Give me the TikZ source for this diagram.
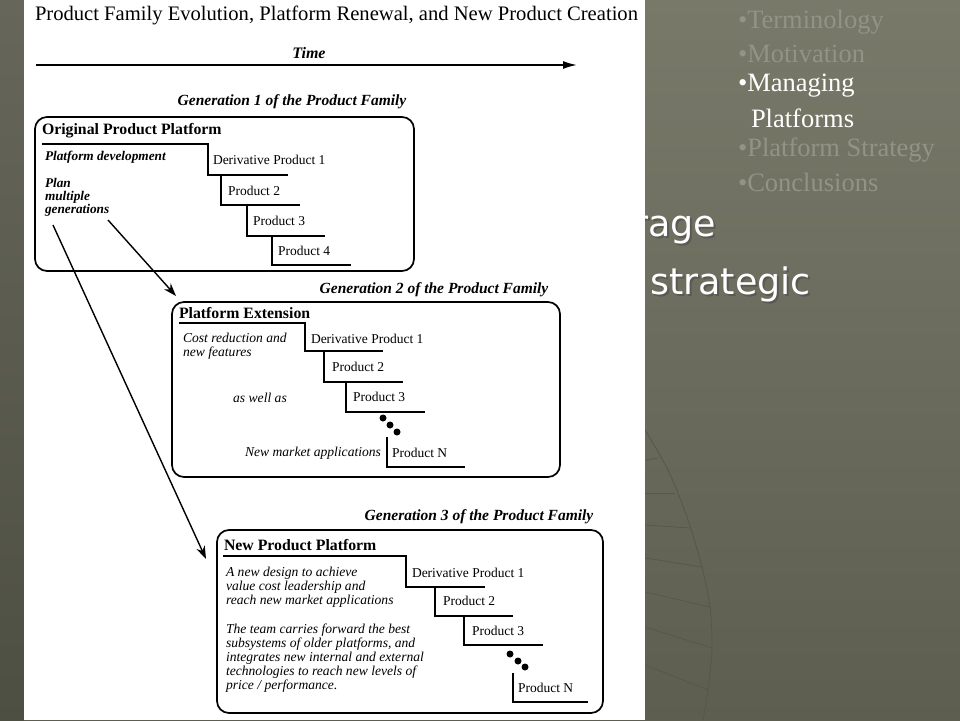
\documentclass[tikz,border=0pt]{standalone}
\usepackage{fontspec}
\setmainfont{Liberation Serif}
\newfontfamily\vfont{DejaVu Sans}
\usetikzlibrary{arrows.meta}
\definecolor{bgtop}{HTML}{787969}
\definecolor{bgbot}{HTML}{5D5E50}
\definecolor{striptop}{HTML}{66675A}
\definecolor{stripbot}{HTML}{4E4F43}
\definecolor{fade}{HTML}{929386}
\definecolor{globe}{HTML}{56574A}
\begin{document}
\begin{tikzpicture}[x=1pt,y=-1pt,
  txt/.style={inner sep=0pt,outer sep=0pt},
  menu/.style={txt,anchor=west,font=\fontsize{26.5}{30}\selectfont},
  big/.style={txt,font=\vfont\fontsize{36.5}{40}\selectfont},
  gen/.style={txt,font=\bfseries\itshape\fontsize{15.5}{17}\selectfont},
  hdr/.style={txt,anchor=west,font=\bfseries\fontsize{15.8}{17}\selectfont},
  prod/.style={txt,anchor=west,font=\fontsize{13.5}{15}\selectfont},
  bnote/.style={txt,anchor=west,align=left,font=\bfseries\itshape\fontsize{13.3}{13}\selectfont},
  inote/.style={txt,anchor=west,align=left,font=\itshape\fontsize{13.6}{14}\selectfont},
  famBox/.style={draw=black,line width=1.7pt,rounded corners=12pt},
  stair/.style={draw=black,line width=1.3pt},
  flowArrow/.style={draw=black,line width=1.4pt,-{Stealth[length=13pt,width=9pt]}},
  dotmark/.style={fill=black}
]
\useasboundingbox (0,0) rectangle (960,720);
% background
\shade[top color=bgtop,bottom color=bgbot] (0,0) rectangle (960,720);
\shade[top color=striptop,bottom color=stripbot] (0,0) rectangle (24,720);
% faint globe decoration
\draw[globe,line width=0.8pt] plot[smooth] coordinates {(645,430) (668,470) (687,517) (702,567) (710,607) (712,648) (708,690) (703,720)};
\foreach \ya/\yb/\xb in {460/458/658, 493/493/675, 525/528/690, 558/567/702, 592/607/710, 627/648/712, 665/690/708} {
  \draw[globe,line width=0.7pt] (645,\ya) -- (\xb,\yb);
}
% big partially hidden words
\node[big,anchor=east,text=black!70,opacity=0.6] (rageS) at (718,232) {rage};
\node[big,anchor=east,text=white] (rage) at (716,230) {rage};
\node[big,anchor=west,text=black!70,opacity=0.6] (stratS) at (652,286) {strategic};
\node[big,anchor=west,text=white] (strat) at (650,284) {strategic};
% menu
\node[menu,text=fade] (m1) at (738,22) {•Terminology};
\node[menu,text=fade] (m2) at (738,54) {•Motivation};
\node[menu,text=white] (m3) at (738,86) {•Managing};
\node[menu,text=white] (m3b) at (751,118) {Platforms};
\node[menu,text=fade] (m4) at (738,150) {•Platform Strategy};
\node[menu,text=fade] (m5) at (738,182) {•Conclusions};
% white panel
\fill[white] (24,0) rectangle (645,720);
% title and time
\node[txt,anchor=west,font=\fontsize{20.6}{23}\selectfont] (title) at (35,15) {Product Family Evolution, Platform Renewal, and New Product Creation};
\node[gen,font=\bfseries\itshape\fontsize{16}{18}\selectfont] (time) at (309,53) {Time};
\coordinate (tA) at (36,65);
\coordinate (tB) at (577,65);
\draw[line width=1.6pt,-{Latex[length=14pt,width=8pt]}] (tA) -- (tB);
% ---------- Generation 1
\node[gen] (g1) at (292,102) {Generation 1 of the Product Family};
\draw[famBox] (35,117) rectangle (414,271);
\node[hdr] (h1) at (42,131) {Original Product Platform};
\draw[stair] (42,144) -- (208,144) -- (208,175) -- (288,175);
\draw[stair] (221,175) -- (221,205) -- (300,205);
\draw[stair] (247,205) -- (247,236) -- (325,236);
\draw[stair] (272,236) -- (272,265) -- (351,265);
\node[prod] (g1p1) at (213,160) {Derivative Product 1};
\node[prod] (g1p2) at (228,191) {Product 2};
\node[prod] (g1p3) at (253,221) {Product 3};
\node[prod] (g1p4) at (278,251) {Product 4};
\node[bnote] (pd) at (45,157) {Platform development};
\node[bnote] (plan) at (45,197) {Plan\\multiple\\generations};
% ---------- Generation 2
\node[gen] (g2) at (434,290) {Generation 2 of the Product Family};
\draw[famBox] (172,302) rectangle (560,477);
\node[hdr] (h2) at (179,313) {Platform Extension};
\draw[stair] (179,323) -- (305,323) -- (305,351) -- (383,351);
\draw[stair] (324,351) -- (324,382) -- (403,382);
\draw[stair] (346,382) -- (346,412) -- (425,412);
\draw[stair] (387,437) -- (387,467) -- (465,467);
\node[prod] (g2p1) at (311,339) {Derivative Product 1};
\node[prod] (g2p2) at (332,367) {Product 2};
\node[prod] (g2p3) at (353,397) {Product 3};
\node[prod] (g2pn) at (392,453) {Product N};
\node[inote] (cost) at (183,346) {Cost reduction and\\new features};
\node[inote,anchor=center] (awa) at (260,398) {as well as};
\node[inote,anchor=east] (nma) at (381,453) {New market applications};
\fill[dotmark] (383,418) circle (3.5pt) (390,425) circle (3.5pt) (397,432) circle (3.5pt);
% ---------- Generation 3
\node[gen] (g3) at (479,517) {Generation 3 of the Product Family};
\draw[famBox] (217,530) rectangle (603,713);
\node[hdr] (h3) at (224,545) {New Product Platform};
\draw[stair] (223,556) -- (406,556) -- (406,587) -- (485,587);
\draw[stair] (435,587) -- (435,616) -- (513,616);
\draw[stair] (464,616) -- (464,645) -- (543,645);
\draw[stair] (513,673) -- (513,702) -- (588,702);
\node[prod] (g3p1) at (412,573) {Derivative Product 1};
\node[prod] (g3p2) at (443,601) {Product 2};
\node[prod] (g3p3) at (472,631) {Product 3};
\node[prod] (g3pn) at (518,688) {Product N};
\node[inote] (nd) at (226,587) {A new design to achieve\\value cost leadership and\\reach new market applications};
\node[inote] (team) at (226,658) {The team carries forward the best\\subsystems of older platforms, and\\integrates new internal and external\\technologies to reach new levels of\\price / performance.};
\fill[dotmark] (510,654) circle (3.5pt) (518,661) circle (3.5pt) (525,667) circle (3.5pt);
% ---------- flow arrows
\coordinate (aAs) at (53,225);
\coordinate (aAe) at (206,559);
\coordinate (aBs) at (108,220);
\coordinate (aBe) at (176,296);
\draw[flowArrow] (aAs) -- (aAe);
\draw[flowArrow] (aBs) -- (aBe);
\end{tikzpicture}
\end{document}
